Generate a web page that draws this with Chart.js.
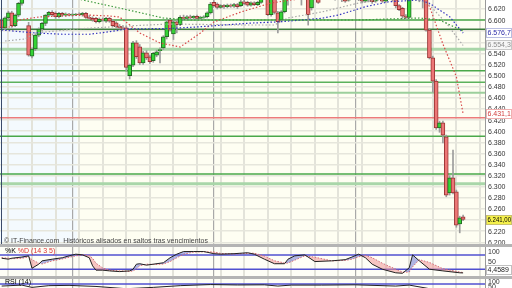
<!DOCTYPE html>
<html>
<head>
<meta charset="utf-8">
<script src="https://cdn.jsdelivr.net/npm/chart.js@4.4.0/dist/chart.umd.min.js"></script>
<style>
  body { margin: 0; width: 512px; height: 288px; overflow: hidden; background: #fff; position: relative;
         font-family: "Liberation Sans", Arial, sans-serif; }
  .abs { position: absolute; }
  .txt { font-size: 7px; color: #444; white-space: nowrap; }
  .sep { left: 0; width: 512px; height: 3px; background: #b4b4b4; }
</style>
</head>
<body>
<canvas id="main" class="abs" width="512" height="244" style="left:0;top:0"></canvas>
<div class="abs txt" style="left:4px;top:237px">© IT-Finance.com&nbsp; Históricos alisados en saltos tras vencimientos</div>
<div class="abs sep" style="top:244px"></div>
<canvas id="stoch" class="abs" width="512" height="29" style="left:0;top:247px"></canvas>
<div class="abs txt" style="left:5px;top:247px"><span style="color:#000">%K</span> <span style="color:#d33">%D (14 3 5)</span></div>
<div class="abs sep" style="top:276px"></div>
<canvas id="rsi" class="abs" width="512" height="30" style="left:0;top:279px"></canvas>
<div class="abs txt" style="left:5px;top:278px;color:#000">RSI (14)</div>

<script>
// velas (puntos del índice)
var open  = [6600,6586,6604,6613,6590,6609,6630,6648,6590,6535,6548,6573,6584,6594,6609,6614,6612,6606,6612,6609,
             6611,6609,6610,6611,6610,6612,6605,6603,6603,6597,6602,6598,6603,6598,6595,6589,6586,6586,6500,6519,
             6559,6552,6523,6541,6534,6527,6537,6545,6550,6570,6600,6575,6597,6592,6605,6603,6606,6604,6607,6603,
             6605,6606,6613,6632,6629,6623,6626,6624,6627,6625,6628,6626,6633,6632,6627,6631,6628,6632,6640,6645,
             6610,6642,6613,6600,6615,6642,6650,6655,6650,6646,6652,6645,6622,6645,6641,6640,6648,6652,6646,6650,
             6644,6645,6640,6636,6645,6650,6645,6638,6634,6642,6637,6634,6645,6640,6634,6640,6645,6637,6626,6621,
             6607,6605,6642,6650,6647,6652,6646,6582,6532,6490,6406,6415,6390,6289,6316,6291,6233,6246];
var high  = [6603,6606,6616,6616,6611,6632,6650,6660,6596,6550,6575,6586,6596,6610,6616,6617,6615,6614,6614,6613,
             6612,6612,6612,6613,6614,6614,6608,6606,6605,6604,6604,6605,6605,6601,6597,6592,6590,6589,6521,6562,
             6563,6556,6544,6545,6537,6542,6546,6550,6572,6600,6603,6599,6600,6608,6609,6608,6609,6608,6609,6607,
             6608,6615,6632,6635,6631,6628,6628,6629,6629,6630,6630,6636,6636,6634,6633,6633,6634,6643,6650,6650,
             6645,6646,6616,6617,6645,6655,6660,6660,6655,6656,6656,6648,6648,6655,6645,6650,6656,6655,6653,6653,
             6650,6648,6643,6647,6653,6652,6647,6640,6645,6644,6639,6647,6648,6642,6643,6648,6647,6639,6628,6623,
             6610,6645,6655,6655,6655,6655,6648,6585,6535,6493,6418,6418,6393,6320,6366,6294,6247,6249];
var low   = [6584,6583,6601,6587,6588,6606,6627,6640,6535,6532,6545,6570,6580,6590,6606,6608,6603,6604,6607,6607,
             6608,6607,6608,6609,6607,6603,6601,6598,6595,6595,6598,6596,6596,6588,6586,6584,6583,6508,6494,6516,
             6531,6520,6520,6529,6522,6524,6534,6523,6547,6566,6580,6565,6577,6590,6600,6601,6602,6601,6602,6600,
             6603,6604,6611,6624,6620,6621,6621,6622,6623,6623,6621,6624,6628,6625,6625,6626,6626,6630,6637,6608,
             6607,6611,6577,6597,6613,6627,6645,6640,6638,6627,6640,6591,6618,6637,6630,6637,6640,6638,6640,6636,
             6637,6633,6632,6634,6642,6638,6635,6631,6632,6633,6630,6632,6637,6632,6632,6638,6634,6622,6617,6603,
             6601,6603,6638,6636,6633,6622,6580,6530,6470,6403,6398,6379,6282,6285,6287,6227,6217,6239];
var close = [6586,6604,6613,6590,6609,6630,6645,6655,6537,6548,6573,6584,6594,6609,6614,6610,6606,6612,6609,6611,
             6609,6610,6611,6610,6612,6605,6603,6600,6597,6602,6600,6603,6598,6590,6588,6586,6585,6515,6519,6559,
             6534,6523,6541,6532,6525,6540,6543,6547,6570,6597,6582,6597,6592,6605,6603,6606,6604,6607,6603,6605,
             6606,6613,6629,6626,6623,6626,6624,6627,6625,6628,6624,6633,6630,6627,6631,6628,6632,6640,6645,6610,
             6642,6614,6597,6615,6642,6650,6655,6650,6646,6652,6645,6610,6645,6650,6632,6648,6652,6646,6650,6644,
             6648,6640,6634,6645,6650,6645,6638,6634,6642,6637,6633,6645,6640,6634,6640,6645,6637,6626,6619,6607,
             6605,6642,6650,6647,6652,6646,6582,6532,6490,6406,6415,6393,6285,6316,6289,6231,6244,6241];

// medias móviles (índice de vela, valor)
var maBlueIdx  = [0,9,18,26,32,37,50,59,73,83,95,100,108,115,124,127,133,137];
var maBlueVal  = [6582.2,6577.3,6574.5,6574.5,6579.1,6584,6584.9,6588.1,6594.3,6597.1,6603.3,6609.2,6624.1,6633.1,6636.2,6630.3,6606.1,6576.7];
var maGrayIdx  = [1,7,10,22,37,50,71,81,85,95,106,112,118,124,127,132,137];
var maGrayVal  = [6562.4,6566,6576.8,6584,6589.4,6593,6591.2,6591.2,6603.8,6614.6,6630.8,6636.2,6640,6636.2,6627.2,6594.8,6554.3];
var maGreenIdx = [0,20,35,48,56,106,124,130,137];
var maGreenVal = [6665,6641.6,6621.8,6603.8,6600.2,6600.2,6603.8,6600,6580.4];
var maRedIdx   = [0,3,5,11,25,32,35,41,47,53,59,63,71,75,80,86,103,124,127,131,135,137];
var maRedVal   = [6587.6,6587.6,6600.2,6605.6,6609.2,6607.4,6605.6,6576.8,6558.8,6551.6,6576.8,6596.6,6614.6,6621.8,6630.8,6636.2,6648,6645,6625,6557,6498,6431.1];

// soportes / resistencias
var levelVal   = [6600,6583.5,6547.5,6509,6488,6469,6424,6391,6323,6305.5];
var levelColor = ['#4aa84a','#3c7d3c','#a9d6a9','#4aa84a','#5cb25c','#9ccf9c','#ec7b7b','#4aa84a','#4aa84a','#a9d6a9'];
var levelWidth = [1.5,1.5,3,1.5,1.5,2,1.5,1.5,1.5,3];

// estocástico %K %D (14 3 5)
var stochIdx = [0,2,3,6,8,9,11,12,15,18,20,22,24,26,27,28,30,32,35,38,39,40,41,43,45,48,50,52,54,57,60,63,65,69,73,75,
                78,81,84,85,87,90,93,98,102,104,106,108,110,113,117,119,121,122,124,127,131,136,137];
var stochK   = [66,62,66,71,76,24,41,55,62,68,76,83,80,68,34,16,16,13,10,13,20,41,43,37,41,47,68,83,94,94,94,85,83,85,89,83,
                62,43,43,62,76,80,52,55,60,71,83,68,41,20,5,3,26,80,55,20,13,5,4.5];
var stochD   = [68,66,64,66,72,60,45,42,55,63,70,76,80,78,65,45,25,16,13,11,13,22,35,41,40,42,52,68,83,92,93,92,86,84,86,87,
                75,55,46,46,58,76,70,55,57,62,72,78,68,45,20,8,8,30,60,48,22,8,6];

// RSI (14)
var rsiIdx = [0,6,9,14,20,28,37,45,53,62,70,78,82,86,95,105,117,121,126,129,137];
var rsiVal = [55,62,45,58,60,52,35,45,58,66,63,64,55,62,62,64,55,62,40,25,15];

// etiquetas del eje derecho
var mainTicks  = [6620,6600,6580,6560,6540,6520,6500,6480,6460,6440,6420,6400,6380,6360,6340,6320,6300,6280,6260,6240,6220,6200];
var stochTicks = [100, 50];
var rsiTicks   = [100, 50];

var labels = [];
for (var i = 0; i < 144; i++) labels.push(String(i + 1));

function pts(idx, val) {
  return idx.map(function (k, j) { return { x: labels[k], y: val[j] }; });
}
function fmt(v) {
  var e = Math.floor(v / 1000), r = Math.round(v - e * 1000);
  return e + '.' + String(r).padStart(3, '0');
}
var FONT = '7px "Liberation Sans", Arial, sans-serif';

// dibuja las etiquetas del eje derecho en la posición de la escala
function axisLabels(vals, format, minY) {
  return {
    id: 'axl',
    afterDatasetsDraw: function (chart) {
      var ctx = chart.ctx, ys = chart.scales.y, a = chart.chartArea;
      ctx.save();
      ctx.font = FONT; ctx.fillStyle = '#333'; ctx.textBaseline = 'middle';
      vals.forEach(function (v) {
        var y = Math.max(ys.getPixelForValue(v), minY || 0);
        ctx.fillText(format(v), a.right + 3, y + 0.5);
      });
      ctx.restore();
    }
  };
}

var darkIdx = [21, 63, 105];
var xGrid = {
  offset: false, drawTicks: false,
  color: function (c) {
    if (darkIdx.indexOf(c.index) >= 0) return '#a9a9a9';
    return c.index % 7 === 2 ? '#e3e3da' : 'rgba(0,0,0,0)';
  },
  lineWidth: function (c) { return darkIdx.indexOf(c.index) >= 0 ? 1.2 : 2; }
};

var bgPlugin = {
  id: 'bg',
  beforeDraw: function (chart) {
    var a = chart.chartArea, ctx = chart.ctx, xs = chart.scales.x;
    var split = (xs.getPixelForValue(22) + xs.getPixelForValue(23)) / 2;
    ctx.save();
    ctx.fillStyle = '#f4fafe';
    ctx.fillRect(a.left, a.top, split - a.left, a.bottom - a.top);
    ctx.fillStyle = '#fefef2';
    ctx.fillRect(split, a.top, a.right - split, a.bottom - a.top);
    ctx.restore();
  },
  afterDraw: function (chart) {
    var a = chart.chartArea, ctx = chart.ctx;
    ctx.save();
    ctx.fillStyle = '#3a4a6a';
    ctx.fillRect(a.left + 1, a.top, 1, a.bottom - a.top);
    ctx.restore();
  }
};

var levelPlugin = {
  id: 'levels',
  beforeDatasetsDraw: function (chart) {
    var a = chart.chartArea, ctx = chart.ctx, ys = chart.scales.y;
    ctx.save();
    levelVal.forEach(function (v, k) {
      var y = ys.getPixelForValue(v);
      ctx.strokeStyle = levelColor[k];
      ctx.lineWidth = levelWidth[k];
      ctx.beginPath(); ctx.moveTo(a.left, y); ctx.lineTo(a.right, y); ctx.stroke();
    });
    ctx.restore();
  }
};

var tagVal  = [6576.7, 6554.3, 6431.1, 6241];
var tagText = ['6.576,7', '6.554,3', '6.431,1', '6.241,00'];
var tagFg   = ['#2a2aa8', '#8c8c8c', '#d03a3a', '#000'];
var tagBg   = ['#ffffff', '#f6f6f6', '#ffffff', '#f4f04a'];
var tagBd   = ['#b8bde0', '#c8c8c8', '#f0b0b0', '#c8c070'];

function drawTag(ctx, y, text, fg, bg, bd) {
  ctx.fillStyle = bg;
  ctx.fillRect(486.5, y - 4.5, 25, 9);
  ctx.strokeStyle = bd;
  ctx.lineWidth = 1;
  ctx.strokeRect(486.5, y - 4.5, 25, 9);
  ctx.fillStyle = fg;
  ctx.font = FONT;
  ctx.textBaseline = 'middle';
  ctx.fillText(text, 487.5, y + 0.5, 23.5);
}

var tagPlugin = {
  id: 'tags',
  afterDraw: function (chart) {
    var ctx = chart.ctx, ys = chart.scales.y;
    ctx.save();
    tagVal.forEach(function (v, k) {
      drawTag(ctx, Math.round(ys.getPixelForValue(v)), tagText[k], tagFg[k], tagBg[k], tagBd[k]);
    });
    ctx.restore();
  }
};

var wickData = low.map(function (l, k) { return [l, high[k]]; });
var bodyData = open.map(function (o, k) { return [o, close[k]]; });
var bodyFill = open.map(function (o, k) { return close[k] >= o ? '#35d435' : '#ec7676'; });
var bodyLine = open.map(function (o, k) { return close[k] >= o ? '#236b23' : '#9a3434'; });

function maLine(idx, val, color) {
  return { type: 'line', data: pts(idx, val), borderColor: color, borderWidth: 1.2, borderDash: [1.5, 2],
           pointRadius: 0, spanGaps: true, tension: 0, order: 0 };
}

function scalesFor(min, max, yGrid) {
  return {
    x: { offset: true, ticks: { display: false, autoSkip: false }, grid: xGrid, border: { display: false },
         afterFit: function (s) { s.height = 0; } },
    y: { position: 'right', min: min, max: max,
         afterFit: function (s) { s.width = 27; },
         afterBuildTicks: function (s) {
           if (!yGrid) { s.ticks = []; return; }
           s.ticks = yGrid.map(function (v) { return { value: v }; });
         },
         ticks: { display: false },
         grid: { color: '#e6e6dc', lineWidth: 1.5, drawTicks: false },
         border: { color: '#9a9a9a' } }
  };
}

new Chart(document.getElementById('main'), {
  type: 'bar',
  data: {
    labels: labels,
    datasets: [
      { data: wickData, backgroundColor: '#9c9c9c', barThickness: 1, grouped: false, order: 3 },
      { data: bodyData, backgroundColor: bodyFill, borderColor: bodyLine, borderWidth: 1, borderSkipped: false,
        barThickness: 4, grouped: false, order: 2 },
      maLine(maGreenIdx, maGreenVal, '#3f9a3f'),
      maLine(maGrayIdx, maGrayVal, '#a8a8a8'),
      maLine(maBlueIdx, maBlueVal, '#3434c0'),
      maLine(maRedIdx, maRedVal, '#d84a4a')
    ]
  },
  options: {
    responsive: false, animation: false,
    layout: { padding: 0 },
    plugins: { legend: { display: false }, tooltip: { enabled: false } },
    scales: scalesFor(6196.9, 6636.2, mainTicks)
  },
  plugins: [bgPlugin, levelPlugin, axisLabels(mainTicks, fmt), tagPlugin]
});

// --- estocástico
function hlinePlugin(vals, color) {
  return {
    id: 'hl',
    beforeDatasetsDraw: function (chart) {
      var a = chart.chartArea, ctx = chart.ctx, ys = chart.scales.y;
      ctx.save();
      ctx.strokeStyle = color; ctx.lineWidth = 1.5;
      vals.forEach(function (v) {
        var y = ys.getPixelForValue(v);
        ctx.beginPath(); ctx.moveTo(a.left, y); ctx.lineTo(a.right, y); ctx.stroke();
      });
      ctx.restore();
    }
  };
}

var subBg = {
  id: 'subbg',
  beforeDraw: function (chart) {
    var a = chart.chartArea, ctx = chart.ctx;
    ctx.save();
    ctx.fillStyle = '#fefef6';
    ctx.fillRect(a.left, a.top, a.right - a.left, a.bottom - a.top);
    ctx.restore();
  }
};

var stochTag = {
  id: 'stag',
  afterDraw: function (chart) {
    var ctx = chart.ctx, ys = chart.scales.y;
    ctx.save();
    drawTag(ctx, Math.round(ys.getPixelForValue(stochK[stochK.length - 1])) - 3, '4,4589', '#222', '#fff', '#c0c0c0');
    ctx.restore();
  }
};

new Chart(document.getElementById('stoch'), {
  type: 'line',
  data: {
    labels: labels,
    datasets: [
      { data: pts(stochIdx, stochK), borderColor: '#222', borderWidth: 1, pointRadius: 0, tension: 0,
        fill: { target: 1, above: 'rgba(110,120,210,0.55)', below: 'rgba(240,150,150,0.55)' } },
      { data: pts(stochIdx, stochD), borderColor: '#e06060', borderWidth: 1, borderDash: [1.5, 1.5], pointRadius: 0, tension: 0 }
    ]
  },
  options: {
    responsive: false, animation: false, layout: { padding: 0 },
    plugins: { legend: { display: false }, tooltip: { enabled: false } },
    scales: scalesFor(-8.4, 113, null)
  },
  plugins: [subBg, hlinePlugin([80, 20], '#5050d0'), axisLabels(stochTicks, String, 5), stochTag]
});

// --- RSI
new Chart(document.getElementById('rsi'), {
  type: 'line',
  data: {
    labels: labels,
    datasets: [
      { data: pts(rsiIdx, rsiVal), borderColor: '#222', borderWidth: 1, pointRadius: 0, tension: 0 }
    ]
  },
  options: {
    responsive: false, animation: false, layout: { padding: 0 },
    plugins: { legend: { display: false }, tooltip: { enabled: false } },
    scales: scalesFor(-116, 107.5, null)
  },
  plugins: [subBg, hlinePlugin([70], '#5050d0'), axisLabels(rsiTicks, String, 3)]
});
</script>
</body>
</html>
